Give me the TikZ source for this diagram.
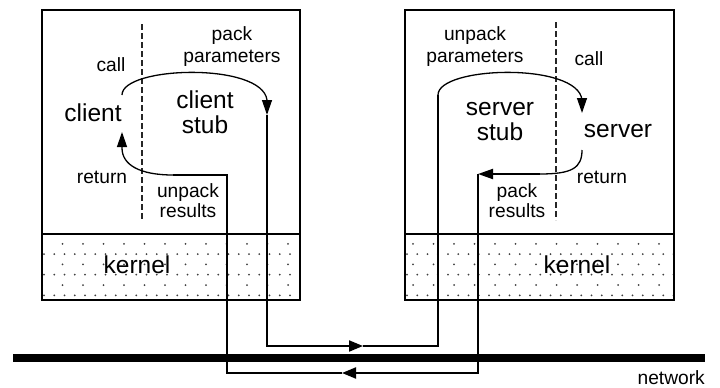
\documentclass[tikz,border=0pt]{standalone}
\usepackage{fontspec}
\setmainfont{Liberation Sans}
\usetikzlibrary{arrows.meta}
\begin{document}
\begin{tikzpicture}[x=1pt,y=-1pt,
  lbl/.style={inner sep=0pt, anchor=base, font=\fontsize{19.2}{22}\selectfont},
  big/.style={inner sep=0pt, anchor=base, font=\fontsize{24.5}{26}\selectfont},
  frame/.style={draw, line width=2.8pt},
  divider/.style={draw=black!85, line width=1.1pt, dash pattern=on 5.5pt off 3.5pt},
  conn/.style={line width=2pt},
  flow/.style={line width=1.3pt},
  midtip/.style={-{Triangle[length=14pt,width=11pt]}},
  endtip/.style={-{Triangle[length=15pt,width=10pt]}},
  dot/.style={fill=black!75}
]
\useasboundingbox (0,0) rectangle (720,388);

% kernel dot texture
\foreach \bx/\so/\ww in {42/20.5/258, 405/8/269} {
  \begin{scope}
    \clip (\bx,234) rectangle ++(\ww,66);
    \foreach \k in {0,2,4,6} {
      \foreach \i in {0,...,27} {
        \fill[dot] ({\bx+2+10.25*\i},{233.5+10.3*\k}) circle (1.0);
      }
    }
    \foreach \k in {1,3,5} {
      \foreach \i in {-1,...,13} {
        \fill[dot] ({\bx+\so+20.5*\i},{233.5+10.3*\k}) circle (1.0);
      }
    }
  \end{scope}
}

% machines
\draw[frame] (42,10) rectangle (300,300);
\draw[frame] (42,234) -- (300,234);
\draw[frame] (405,10) rectangle (674,300);
\draw[frame] (405,234) -- (674,234);

% dividers
\draw[divider] (142,24) -- (142,220);
\draw[divider] (556,22) -- (556,220);

% network
\fill (13,354) rectangle (705,362);

% texts, client side
\node[lbl] (lpack) at (232,40) {pack};
\node[lbl] (lparam) at (232,62) {parameters};
\node[lbl] (lcall) at (111,71) {call};
\node[big] (client) at (93,121.7) {client};
\node[big] (cstubA) at (205,108) {client};
\node[big] (cstubB) at (205,133) {stub};
\node[lbl] (lret) at (102,183) {return};
\node[lbl] (lunpack) at (188,197) {unpack};
\node[lbl] (lres) at (188,217) {results};
\node[big] (lkern) at (137,273) {kernel};

% texts, server side
\node[lbl] (runpack) at (475,40) {unpack};
\node[lbl] (rparam) at (475,62) {parameters};
\node[lbl] (rcall) at (589,65) {call};
\node[big] (sstubA) at (500,115) {server};
\node[big] (sstubB) at (500,140) {stub};
\node[big] (server) at (618,137) {server};
\node[lbl] (rret) at (602,183) {return};
\node[lbl] (rpack) at (517,197) {pack};
\node[lbl] (rres) at (517,217) {results};
\node[big] (rkern) at (577,273) {kernel};

\node[lbl, anchor=base east] (net) at (705,384) {network};

% connector points
\coordinate (lcS) at (122,95);
\coordinate (lcB) at (267,100);
\coordinate (lcT) at (267,115);
\coordinate (oA) at (363,346);
\coordinate (rsS) at (438,95);
\coordinate (rcB) at (582,100);
\coordinate (rcT) at (582,113);
\coordinate (rrS) at (582,150);
\coordinate (rrM) at (540,174);
\coordinate (rrT) at (478,174);
\coordinate (oB) at (342,373);
\coordinate (lrU) at (227,175);
\coordinate (lrC) at (173,175);
\coordinate (lrB) at (122,148);
\coordinate (lrT) at (122,132);

% call path
\draw[flow,endtip] (lcS) .. controls (122,66) and (262,62) .. (lcB) -- (lcT);
\draw[conn,midtip] (lcT) |- (oA);
\draw[conn] (oA) -| (rsS);
\draw[flow,endtip] (rsS) .. controls (438,66) and (578,62) .. (rcB) -- (rcT);

% return path
\draw[flow] (rrS) .. controls (582,168) and (572,174) .. (rrM);
\draw[conn,endtip] (rrM) -- (rrT);
\draw[conn,midtip] (rrT) |- (oB);
\draw[conn] (oB) -| (lrU) -- (lrC);
\draw[flow,endtip] (lrC) .. controls (140,175) and (122,165) .. (lrB) -- (lrT);
\end{tikzpicture}
\end{document}
